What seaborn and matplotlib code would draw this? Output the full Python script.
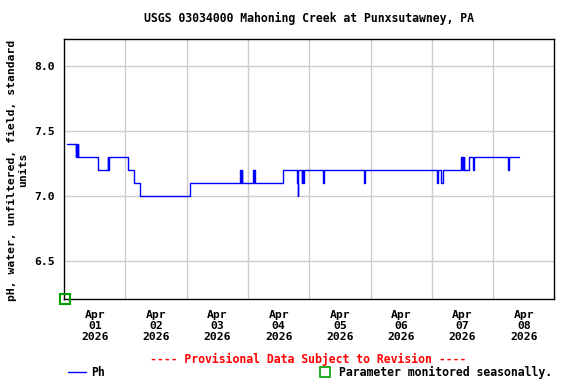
import matplotlib
matplotlib.use('Agg')
import matplotlib.pyplot as plt
from matplotlib.lines import Line2D
import seaborn as sns
import pandas as pd

# pH change points (steps-post), Apr 2026
ph_times = [
    '04-01 01:00', '04-01 04:30', '04-01 04:45', '04-01 05:00', '04-01 05:15',
    '04-01 05:30', '04-01 13:15', '04-01 17:00', '04-01 17:15', '04-01 17:30',
    '04-02 01:00', '04-02 03:15', '04-02 05:45', '04-03 01:15', '04-03 21:00',
    '04-03 21:15', '04-03 21:30', '04-03 21:45', '04-04 02:00', '04-04 02:15',
    '04-04 02:30', '04-04 02:45', '04-04 13:45', '04-04 19:00', '04-04 19:30',
    '04-04 19:45', '04-04 21:00', '04-04 21:15', '04-04 21:30', '04-04 21:45',
    '04-05 05:15', '04-05 05:45', '04-05 21:30', '04-05 21:45', '04-07 02:00',
    '04-07 02:15', '04-07 03:45', '04-07 04:15', '04-07 11:30', '04-07 11:45',
    '04-07 12:00', '04-07 12:15', '04-07 12:30', '04-07 12:45', '04-07 14:30',
    '04-07 16:15', '04-07 16:30', '04-08 05:45', '04-08 06:15', '04-08 10:00',
]
ph_values = [
    7.4, 7.3, 7.4, 7.3, 7.4,
    7.3, 7.2, 7.3, 7.2, 7.3,
    7.2, 7.1, 7.0, 7.1, 7.2,
    7.1, 7.2, 7.1, 7.2, 7.1,
    7.2, 7.1, 7.2, 7.1, 7.0,
    7.2, 7.1, 7.2, 7.1, 7.2,
    7.1, 7.2, 7.1, 7.2, 7.1,
    7.2, 7.1, 7.2, 7.3, 7.2,
    7.3, 7.2, 7.3, 7.2, 7.3,
    7.2, 7.3, 7.2, 7.3, 7.3,
]
day_labels = ['Apr\n01\n2026', 'Apr\n02\n2026', 'Apr\n03\n2026', 'Apr\n04\n2026',
              'Apr\n05\n2026', 'Apr\n06\n2026', 'Apr\n07\n2026', 'Apr\n08\n2026']
y_ticks = [6.5, 7.0, 7.5, 8.0]

df = pd.DataFrame({
    'time': pd.to_datetime(['2026-' + t for t in ph_times]),
    'ph': ph_values,
})

sns.set_style('white')
plt.rcParams['font.family'] = ['DejaVu Sans Mono']
plt.rcParams['font.weight'] = 'bold'
plt.rcParams['text.color'] = 'black'
plt.rcParams['xtick.labelcolor'] = 'black'
plt.rcParams['ytick.labelcolor'] = 'black'

fig = plt.figure(figsize=(5.76, 3.84), dpi=100)
ax = fig.add_axes([0.1115, 0.2214, 0.851, 0.677])

sns.lineplot(data=df, x='time', y='ph', ax=ax, color='#0000ff', linewidth=1.0,
             drawstyle='steps-post', estimator=None)

x0 = pd.Timestamp('2026-04-01')
x1 = pd.Timestamp('2026-04-09')
ax.set_xlim(x0, x1)
ax.set_ylim(6.208, 8.208)

# labels at noon, grid at midnight
noon = pd.date_range('2026-04-01 12:00', periods=8, freq='D')
midnight = pd.date_range('2026-04-02', periods=7, freq='D')
ax.set_xticks(noon)
ax.set_xticklabels(day_labels, fontsize=8.2, fontweight='bold', linespacing=1.15)
ax.set_xticks(midnight, minor=True)
ax.tick_params(axis='x', which='both', length=0, pad=8)
ax.grid(True, axis='x', which='minor', color='#cccccc', linewidth=1)

ax.set_yticks(y_ticks)
ax.set_yticklabels([f'{v:.1f}' for v in y_ticks], fontsize=8.2, fontweight='bold')
ax.tick_params(axis='y', length=0, pad=7)
ax.grid(True, axis='y', which='major', color='#cccccc', linewidth=1)

for s in ax.spines.values():
    s.set_color('black')
    s.set_linewidth(1.0)

ax.set_xlabel('')
ax.set_ylabel('')

# seasonal marker at the lower-left corner
ax.plot([x0 + pd.Timedelta(hours=0.3)], [6.208], marker='s', markersize=7,
        markerfacecolor='none', markeredgecolor='#00a000', markeredgewidth=1.5,
        clip_on=False, zorder=5)

fig.text(0.537, 0.951, 'USGS 03034000 Mahoning Creek at Punxsutawney, PA',
         ha='center', va='center', fontsize=8.3, fontweight='bold')
fig.text(0.031, 0.557, 'pH, water, unfiltered, field, standard\nunits',
         rotation=90, ha='center', va='center', fontsize=8.2, fontweight='bold',
         linespacing=1.1)
fig.text(0.535, 0.065, '---- Provisional Data Subject to Revision ----',
         ha='center', va='center', fontsize=8.3, fontweight='bold', color='red')

# legend row
fig.add_artist(Line2D([0.118, 0.150], [0.031, 0.031], transform=fig.transFigure,
                      color='#0000ff', linewidth=1.0))
fig.text(0.158, 0.031, 'Ph', ha='left', va='center', fontsize=8.3, fontweight='bold')
fig.add_artist(Line2D([0.565], [0.031], transform=fig.transFigure, marker='s',
                      markersize=7, markerfacecolor='none',
                      markeredgecolor='#00a000', markeredgewidth=1.2))
fig.text(0.589, 0.031, 'Parameter monitored seasonally.', ha='left', va='center',
         fontsize=8.3, fontweight='bold')

fig.savefig('out.png', dpi=100, facecolor='white')
